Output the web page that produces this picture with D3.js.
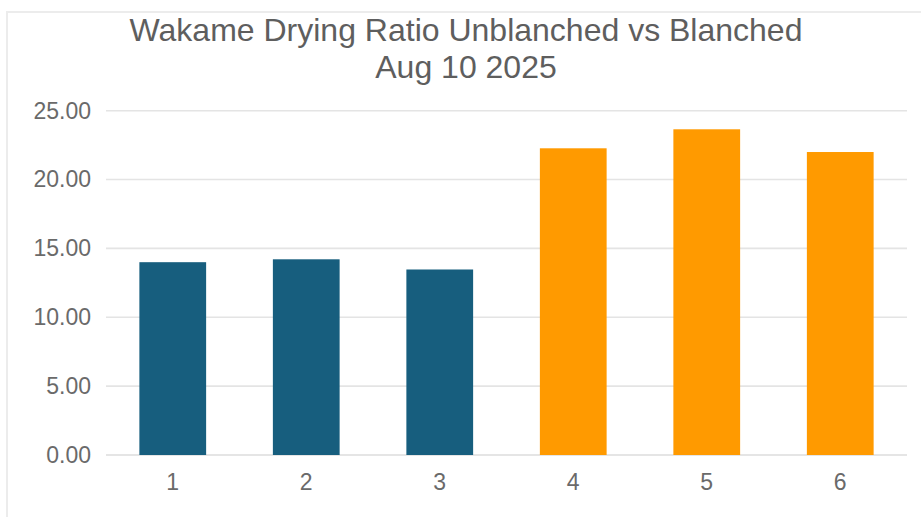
<!DOCTYPE html>
<html>
<head>
<meta charset="utf-8">
<script src="https://cdn.jsdelivr.net/npm/d3@7"></script>
<style>
  html, body { margin: 0; padding: 0; background: #fff; }
  svg { display: block; font-family: "Liberation Sans", Arial, sans-serif; }
</style>
</head>
<body>
<svg id="chart" width="921" height="517"></svg>
<script>
// Drying ratio per sample: 1-3 unblanched, 4-6 blanched
const samples = ["1", "2", "3", "4", "5", "6"];
const ratios = [14.0, 14.21, 13.47, 22.27, 23.65, 22.0];
const groups = ["unblanched", "unblanched", "unblanched", "blanched", "blanched", "blanched"];
const yTicks = [0, 5, 10, 15, 20, 25];
const titleLines = ["Wakame Drying Ratio Unblanched vs Blanched", "Aug 10 2025"];

const colors = { unblanched: "#175e7e", blanched: "#ff9a00" };

const svg = d3.select("#chart");
const W = 921, H = 517;
const margin = { left: 106, right: 14, top: 110.7, bottom: 62 };

// Card outline
svg.append("path")
  .attr("d", `M7,${H} L7,12 L${W},12`)
  .attr("fill", "none")
  .attr("stroke", "#ececec")
  .attr("stroke-width", 2);

const x = d3.scaleBand()
  .domain(samples)
  .range([margin.left, W - margin.right])
  .paddingInner(0.5)
  .paddingOuter(0.25);

const y = d3.scaleLinear()
  .domain([0, 25])
  .range([H - margin.bottom, margin.top]);

// Horizontal gridlines
svg.append("g")
  .selectAll("line")
  .data(yTicks)
  .join("line")
  .attr("x1", margin.left)
  .attr("x2", W - margin.right)
  .attr("y1", d => y(d))
  .attr("y2", d => y(d))
  .attr("stroke", d => d === 0 ? "#dcdcdc" : "#e4e4e4")
  .attr("stroke-width", 1.6);

// Y axis labels
const yAxis = d3.axisLeft(y).tickValues(yTicks).tickFormat(d3.format(".2f")).tickSize(0).tickPadding(15);
svg.append("g")
  .attr("transform", `translate(${margin.left},0)`)
  .call(yAxis)
  .call(g => g.select(".domain").remove())
  .call(g => g.selectAll("text")
    .attr("font-family", "Liberation Sans, Arial, sans-serif")
    .attr("font-size", 23)
    .attr("fill", "#6a6a6a"));

// Bars
svg.append("g")
  .selectAll("rect")
  .data(samples)
  .join("rect")
  .attr("x", d => x(d))
  .attr("width", x.bandwidth())
  .attr("y", (d, i) => y(ratios[i]))
  .attr("height", (d, i) => y(0) - y(ratios[i]))
  .attr("fill", (d, i) => colors[groups[i]]);

// X axis labels
const xAxis = d3.axisBottom(x).tickSize(0).tickPadding(19);
svg.append("g")
  .attr("transform", `translate(0,${y(0)})`)
  .call(xAxis)
  .call(g => g.select(".domain").remove())
  .call(g => g.selectAll("text")
    .attr("font-family", "Liberation Sans, Arial, sans-serif")
    .attr("font-size", 23)
    .attr("fill", "#6a6a6a"));

// Title
svg.append("g")
  .selectAll("text")
  .data(titleLines)
  .join("text")
  .attr("x", 466)
  .attr("y", (d, i) => 40.5 + i * 37)
  .attr("text-anchor", "middle")
  .attr("font-size", 32)
  .attr("fill", "#5e5e5e")
  .text(d => d);
</script>
</body>
</html>
